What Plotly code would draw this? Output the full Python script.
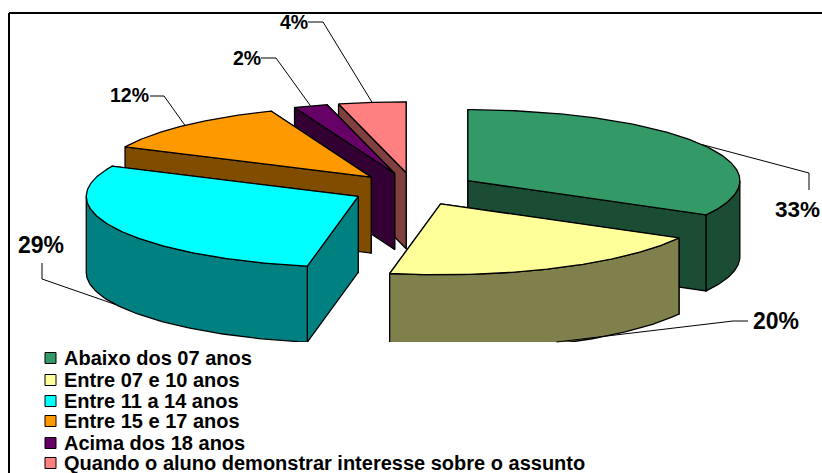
import numpy as np
import plotly.graph_objects as go

categories = ["Abaixo dos 07 anos", "Entre 07 e 10 anos", "Entre 11 a 14 anos",
              "Entre 15 e 17 anos", "Acima dos 18 anos",
              "Quando o aluno demonstrar interesse sobre o assunto"]
values = [33, 20, 29, 12, 2, 4]
top_colors = ["#339966", "#FFFF99", "#00FFFF", "#FF9900", "#660066", "#FF8080"]
side_colors = ["#1A4D33", "#80804D", "#008080", "#804D00", "#330033", "#804040"]
draw_order = [5, 4, 3, 0, 2, 1]

# projection of the tilted, exploded pie, in page pixels
CX, CY, RX, RY, DEPTH, EXPLODE = 414, 189, 272, 71, 76, 0.23
CLIP_Y = 342
FONT = "Liberation Sans, Arial, sans-serif"

fracs = np.array(values) / sum(values)
ends = np.cumsum(fracs) * 2 * np.pi
starts = ends - fracs * 2 * np.pi


def px(apex, t):
    return apex[0] + RX * np.sin(t), apex[1] - RY * np.cos(t)


fig = go.Figure()


def poly(xs, ys, color, name):
    fig.add_trace(go.Scatter(x=list(xs), y=list(ys), mode="lines", fill="toself",
                             fillcolor=color, line=dict(color="#000000", width=1.3),
                             name=name, showlegend=False, hoverinfo="skip"))


def wall(apex, t, color, name):
    ox, oy = px(apex, t)
    poly([apex[0], ox, ox, apex[0], apex[0]],
         [apex[1], oy, oy + DEPTH, apex[1] + DEPTH, apex[1]], color, name)


apexes = []
for s, e in zip(starts, ends):
    mid = (s + e) / 2
    apexes.append((CX + EXPLODE * RX * np.sin(mid), CY - EXPLODE * RY * np.cos(mid)))

for i in draw_order:
    s, e, apex = starts[i], ends[i], apexes[i]
    name = categories[i]
    # radial walls, the one whose rim sits lower is nearer the viewer
    for t in sorted((s, e), key=lambda a: -np.cos(a)):
        wall(apex, t, side_colors[i], name)
    # outer rim wall, only the front half of the ellipse shows
    lo, hi = max(s, np.pi / 2), min(e, 3 * np.pi / 2)
    if hi > lo:
        ts = np.linspace(lo, hi, 80)
        ax, ay = px(apex, ts)
        poly(np.r_[ax, ax[::-1], ax[0]], np.r_[ay, ay[::-1] + DEPTH, ay[0]], side_colors[i], name)
    # top face
    ts = np.linspace(s, e, 120)
    ax, ay = px(apex, ts)
    poly(np.r_[apex[0], ax, apex[0]], np.r_[apex[1], ay, apex[1]], top_colors[i], name)

# area under the plot is cut off where the legend block begins
fig.add_trace(go.Scatter(x=[12, 822, 822, 12, 12], y=[CLIP_Y, CLIP_Y, 473, 473, CLIP_Y],
                         mode="lines", fill="toself", fillcolor="#FFFFFF",
                         line=dict(width=0, color="#FFFFFF"), showlegend=False, hoverinfo="skip"))

shapes = [
    dict(type="line", x0=9, x1=9, y0=13, y1=473, line=dict(color="#000000", width=2), layer="above"),
    dict(type="line", x0=9, x1=822, y0=13, y1=13, line=dict(color="#000000", width=2), layer="above"),
]

# leader lines: rim midpoint of each slice, then elbow, then label end
leader_paths = {
    0: [(809, 173), (809, 190)],
    1: [(733, 321), (748, 321)],
    2: [(42, 279), (42, 263)],
    3: [(164, 96), (150, 96)],
    4: [(276, 58), (261, 58)],
    5: [(323, 22), (308, 22)],
}
label_pos = {0: (773, 209, 22.5), 1: (751, 321, 23), 2: (16, 245, 23),
             3: (108, 95, 19.5), 4: (231, 58, 19.5), 5: (278, 22, 19.5)}

for i, path in leader_paths.items():
    mid = (starts[i] + ends[i]) / 2
    ax, ay = px(apexes[i], mid)
    if np.cos(mid) < 0:
        ay += DEPTH
    ay = min(ay, CLIP_Y)
    xs = [ax] + [p[0] for p in path]
    ys = [ay] + [p[1] for p in path]
    fig.add_trace(go.Scatter(x=xs, y=ys, mode="lines", line=dict(color="#000000", width=1),
                             showlegend=False, hoverinfo="skip"))

annotations = []
for i, (x, y, size) in label_pos.items():
    annotations.append(dict(x=x, y=y, xref="x", yref="y", text=f"<b>{values[i]}%</b>",
                            showarrow=False, xanchor="left", yanchor="middle",
                            font=dict(family=FONT, size=size, color="#000000")))

legend_rows = [358, 380, 401, 421, 443, 463]
fig.add_trace(go.Scatter(x=[50.5] * 6, y=legend_rows, mode="markers",
                         marker=dict(symbol="square", size=11, color=top_colors,
                                     line=dict(color="#000000", width=1)),
                         showlegend=False, hoverinfo="skip"))
for name, y in zip(categories, legend_rows):
    annotations.append(dict(x=62, y=y, xref="x", yref="y", text=f"<b>{name}</b>",
                            showarrow=False, xanchor="left", yanchor="middle",
                            font=dict(family=FONT, size=20, color="#000000")))

fig.update_layout(
    width=822, height=473, margin=dict(l=0, r=0, t=0, b=0),
    paper_bgcolor="#FFFFFF", plot_bgcolor="#FFFFFF", showlegend=False,
    xaxis=dict(range=[0, 822], visible=False, fixedrange=True),
    yaxis=dict(range=[473, 0], visible=False, fixedrange=True),
    shapes=shapes, annotations=annotations,
)
fig.write_html("out.html", config=dict(displayModeBar=False),
               post_script="document.body.style.margin='0';document.body.style.overflow='hidden';")
